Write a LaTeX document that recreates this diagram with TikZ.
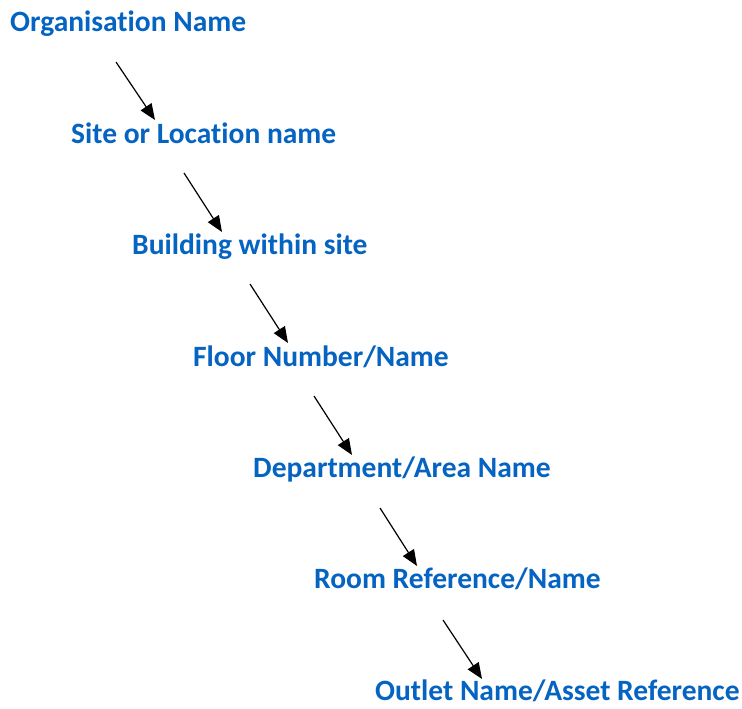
\documentclass[tikz,border=0pt]{standalone}
\usepackage{fontspec}
\setmainfont{Carlito}[Ligatures=NoCommon]
\usetikzlibrary{arrows.meta}

\definecolor{levelblue}{RGB}{5,99,193}

\begin{document}
\begin{tikzpicture}[x=1pt,y=-1pt,>/.tip={Triangle[length=16pt,width=13pt]},
	level/.style={anchor=base west,inner sep=0pt,text=levelblue,font=\fontsize{29.5}{34}\selectfont\bfseries}]
	\useasboundingbox (0,0) rectangle (742,709);
	\draw (10,32) node (org) [level] {Organisation Name};
	\draw (71,143) node (site) [level] {Site or Location name};
	\draw (132,254) node (bldg) [level] {Building within site};
	\draw (193,366) node (floor) [level] {Floor Number/Name};
	\draw (253,477) node (dept) [level] {Department/Area Name};
	\draw (314,588) node (room) [level] {Room Reference/Name};
	\draw (375,700) node (outlet) [level] {Outlet Name/Asset Reference};
	\coordinate (s1) at (116,62);  \coordinate (e1) at (155,120);
	\coordinate (s2) at (184,173); \coordinate (e2) at (222,232);
	\coordinate (s3) at (250,284); \coordinate (e3) at (288,343);
	\coordinate (s4) at (314,396); \coordinate (e4) at (352,455);
	\coordinate (s5) at (380,508); \coordinate (e5) at (417,566);
	\coordinate (s6) at (443,620); \coordinate (e6) at (482,679);
	\draw[->,line width=1.2pt] (s1) -- (e1);
	\draw[->,line width=1.2pt] (s2) -- (e2);
	\draw[->,line width=1.2pt] (s3) -- (e3);
	\draw[->,line width=1.2pt] (s4) -- (e4);
	\draw[->,line width=1.2pt] (s5) -- (e5);
	\draw[->,line width=1.2pt] (s6) -- (e6);
\end{tikzpicture}
\end{document}
